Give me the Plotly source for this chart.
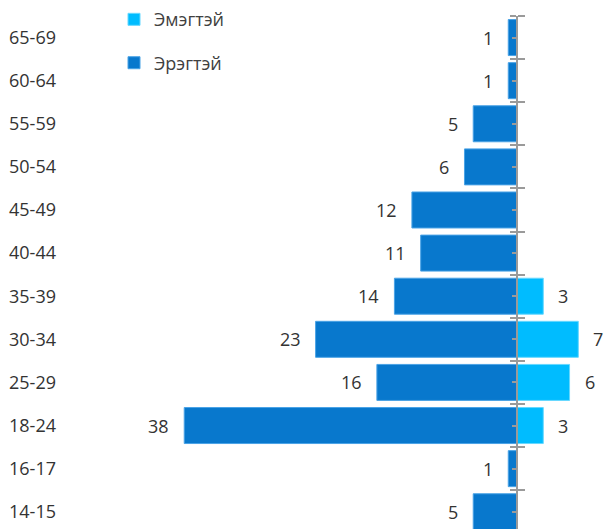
import plotly.graph_objects as go

# Data (bottom to top)
ages = ["14-15", "16-17", "18-24", "25-29", "30-34", "35-39",
        "40-44", "45-49", "50-54", "55-59", "60-64", "65-69"]
male = [5, 1, 38, 16, 23, 14, 11, 12, 6, 5, 1, 1]
female = [0, 0, 3, 6, 7, 3, 0, 0, 0, 0, 0, 0]

MALE_NAME = "Эрэгтэй"
FEMALE_NAME = "Эмэгтэй"
MALE_COLOR = "#0878cd"
FEMALE_COLOR = "#00bcff"
TEXT_COLOR = "#333333"
AXIS_COLOR = "#9a9a9a"
FONT = "Open Sans"

W, H = 608, 529
ML, MR, MT, MB = 66, 0, 16, 0
XRANGE = [-51.5, 10.39]
YRANGE = [-0.40, len(ages) - 0.5]

fig = go.Figure()
fig.add_trace(go.Bar(
    y=ages, x=[-v for v in male], orientation="h", name=MALE_NAME,
    marker=dict(color=MALE_COLOR, line=dict(color="#4aa3e6", width=1)),
    legendgroup="m", legendrank=2, hoverinfo="skip",
))
fig.add_trace(go.Bar(
    y=ages, x=female, orientation="h", name=FEMALE_NAME,
    marker=dict(color=FEMALE_COLOR, line=dict(color="#66d8ff", width=1)),
    legendgroup="f", legendrank=1, hoverinfo="skip",
))

annotations = []
for a, m, f in zip(ages, male, female):
    if m:
        annotations.append(dict(x=-m, y=a, text=str(m), showarrow=False,
                                xanchor="right", xshift=-13,
                                font=dict(size=18, color=TEXT_COLOR, family=FONT)))
    if f:
        annotations.append(dict(x=f, y=a, text=str(f), showarrow=False,
                                xanchor="left", xshift=13,
                                font=dict(size=18, color=TEXT_COLOR, family=FONT)))

zero_pos = (0 - XRANGE[0]) / (XRANGE[1] - XRANGE[0])
n = len(ages)
bounds = [i - 0.5 for i in range(n + 1)]
centers = list(range(n))

fig.update_layout(
    width=W, height=H,
    margin=dict(l=ML, r=MR, t=MT, b=MB, autoexpand=False),
    paper_bgcolor="white", plot_bgcolor="white",
    barmode="relative", bargap=0.165,
    font=dict(family=FONT, color=TEXT_COLOR),
    showlegend=True,
    legend=dict(x=0.1875, y=1.029, xref="container", yref="paper",
                xanchor="left", yanchor="top",
                traceorder="grouped", tracegroupgap=17,
                font=dict(size=18, color="#404040", family=FONT),
                bgcolor="rgba(0,0,0,0)"),
    xaxis=dict(range=XRANGE, showgrid=False, zeroline=False, automargin=False,
               showticklabels=False, showline=False, fixedrange=True),
    yaxis=dict(type="category", categoryarray=ages, range=YRANGE,
               showgrid=False, zeroline=False, showline=False, ticks="",
               automargin=False,
               tickfont=dict(size=18, color=TEXT_COLOR, family=FONT),
               ticklabelstandoff=9),
    yaxis2=dict(overlaying="y", anchor="free", position=zero_pos, side="left",
                range=YRANGE, showgrid=False, zeroline=False, automargin=False,
                showline=True, linecolor=AXIS_COLOR, linewidth=1.5,
                tickmode="array", tickvals=bounds, ticks="outside",
                ticklen=6, tickcolor=AXIS_COLOR, tickwidth=1.5,
                showticklabels=False),
    yaxis3=dict(overlaying="y", anchor="free", position=zero_pos, side="left",
                range=YRANGE, showgrid=False, zeroline=False, showline=False,
                automargin=False,
                tickmode="array", tickvals=centers, ticks="outside",
                ticklen=5, tickcolor=AXIS_COLOR, tickwidth=1.5,
                showticklabels=False),
    yaxis4=dict(overlaying="y", anchor="free", position=zero_pos, side="right",
                range=YRANGE, showgrid=False, zeroline=False, showline=False,
                automargin=False,
                tickmode="array", tickvals=bounds, ticks="outside",
                ticklen=7, tickcolor=AXIS_COLOR, tickwidth=1.5,
                showticklabels=False),
    annotations=annotations,
)

# invisible traces to activate overlay axes
for ax in ["y2", "y3", "y4"]:
    fig.add_trace(go.Scatter(x=[None], y=[None], yaxis=ax, showlegend=False,
                             hoverinfo="skip"))

fig.write_html(
    "out.html",
    config={"displayModeBar": False},
    post_script="document.body.style.margin='0';document.body.style.overflow='hidden';",
)
